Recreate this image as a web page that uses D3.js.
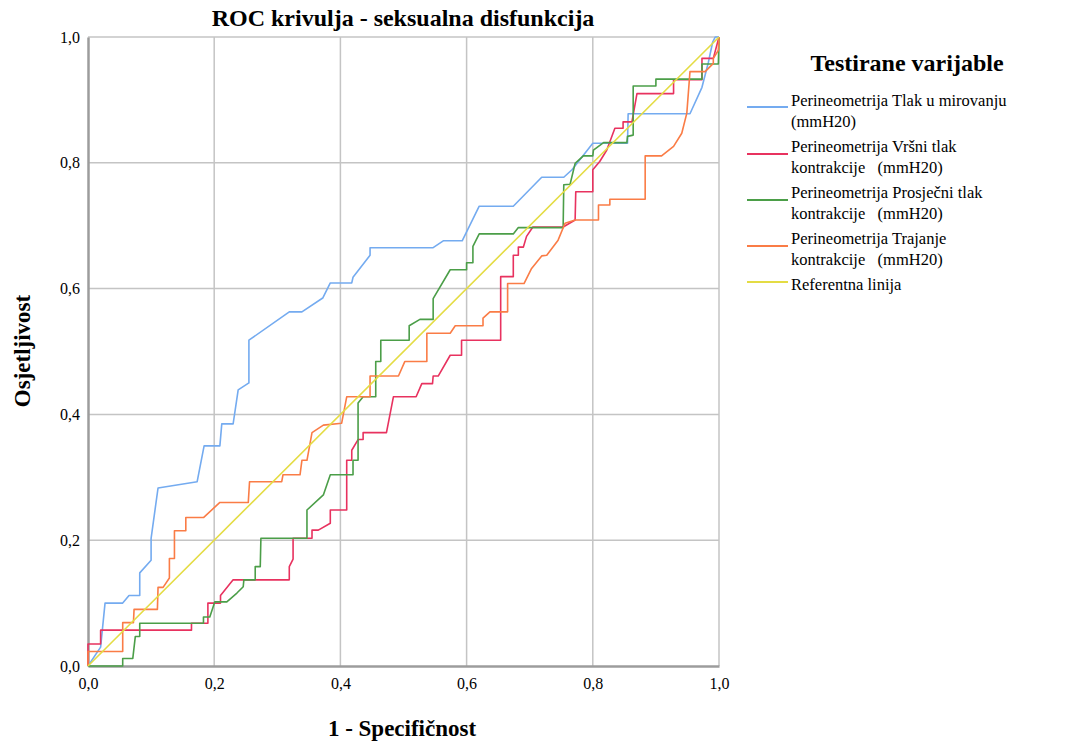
<!DOCTYPE html>
<html><head><meta charset="utf-8">
<script src="https://cdn.jsdelivr.net/npm/d3@7"></script>
<style>
body{margin:0;background:#fff;}
svg text{font-family:"Liberation Serif","Times New Roman",Times,"DejaVu Serif",serif !important;fill:#000;}
</style></head>
<body><svg id="c" width="1070" height="744"></svg>
<script>
const title = "ROC krivulja - seksualna disfunkcija";
const xTitle = "1 - Specifičnost";
const yTitle = "Osjetljivost";
const legendTitle = "Testirane varijable";
const tickValues = [0, 0.2, 0.4, 0.6, 0.8, 1.0];

const seriesNames = [
  ["Perineometrija Tlak u mirovanju", "(mmH20)"],
  ["Perineometrija Vršni tlak", "kontrakcije   (mmH20)"],
  ["Perineometrija Prosječni tlak", "kontrakcije   (mmH20)"],
  ["Perineometrija Trajanje", "kontrakcije   (mmH20)"],
  ["Referentna linija"]
];
const seriesColors = ["#74abf0", "#e8325f", "#4b9e48", "#fa7c46", "#e4dc44"];

// [1 - specificity, sensitivity]
const tlakMirovanje = [[0,0],[0.02,0.03],[0.027,0.10],[0.055,0.10],[0.065,0.112],[0.082,0.112],[0.082,0.148],[0.1,0.168],[0.1,0.203],[0.111,0.283],[0.173,0.293],[0.184,0.35],[0.209,0.35],[0.212,0.385],[0.23,0.385],[0.238,0.439],[0.255,0.45],[0.255,0.518],[0.319,0.563],[0.339,0.563],[0.372,0.585],[0.384,0.609],[0.418,0.609],[0.42,0.618],[0.447,0.653],[0.447,0.665],[0.547,0.665],[0.563,0.676],[0.593,0.676],[0.62,0.731],[0.674,0.731],[0.719,0.777],[0.754,0.777],[0.767,0.789],[0.8,0.831],[0.855,0.831],[0.856,0.878],[0.954,0.878],[0.973,0.92],[0.983,0.959],[0.99,0.992],[0.994,1.0],[1,1]];
const vrsniTlak = [[0,0],[0,0.035],[0.02,0.035],[0.02,0.057],[0.164,0.057],[0.164,0.068],[0.19,0.068],[0.19,0.10],[0.21,0.10],[0.21,0.112],[0.23,0.137],[0.319,0.137],[0.319,0.158],[0.325,0.17],[0.325,0.203],[0.355,0.203],[0.355,0.216],[0.365,0.216],[0.384,0.227],[0.384,0.248],[0.41,0.248],[0.41,0.327],[0.418,0.327],[0.418,0.343],[0.428,0.36],[0.436,0.36],[0.436,0.371],[0.473,0.371],[0.484,0.428],[0.52,0.428],[0.529,0.449],[0.546,0.449],[0.547,0.461],[0.555,0.461],[0.574,0.494],[0.592,0.494],[0.592,0.518],[0.654,0.518],[0.654,0.619],[0.674,0.619],[0.674,0.653],[0.682,0.653],[0.682,0.666],[0.69,0.666],[0.695,0.683],[0.705,0.698],[0.753,0.698],[0.772,0.709],[0.773,0.754],[0.8,0.754],[0.8,0.789],[0.811,0.802],[0.822,0.82],[0.835,0.855],[0.848,0.855],[0.848,0.865],[0.862,0.865],[0.87,0.91],[0.928,0.91],[0.928,0.932],[0.973,0.932],[0.973,0.966],[0.991,0.966],[1,1]];
const prosjecniTlak = [[0,0],[0.055,0],[0.055,0.012],[0.071,0.012],[0.075,0.047],[0.082,0.047],[0.082,0.068],[0.183,0.068],[0.183,0.078],[0.193,0.078],[0.201,0.102],[0.22,0.102],[0.236,0.116],[0.246,0.126],[0.247,0.137],[0.265,0.137],[0.265,0.158],[0.273,0.158],[0.274,0.203],[0.347,0.203],[0.347,0.248],[0.373,0.272],[0.384,0.304],[0.42,0.304],[0.42,0.327],[0.428,0.327],[0.428,0.418],[0.436,0.428],[0.456,0.428],[0.456,0.484],[0.464,0.484],[0.464,0.518],[0.509,0.518],[0.509,0.541],[0.526,0.551],[0.547,0.551],[0.547,0.584],[0.574,0.63],[0.6,0.63],[0.6,0.641],[0.61,0.641],[0.61,0.667],[0.62,0.687],[0.674,0.687],[0.682,0.697],[0.753,0.697],[0.754,0.765],[0.764,0.766],[0.772,0.799],[0.785,0.811],[0.8,0.811],[0.801,0.82],[0.817,0.832],[0.854,0.832],[0.855,0.842],[0.864,0.844],[0.864,0.922],[0.9,0.922],[0.9,0.933],[0.973,0.933],[0.973,0.957],[0.999,0.957],[1,1]];
const trajanje = [[0,0],[0,0.023],[0.055,0.023],[0.055,0.069],[0.072,0.069],[0.073,0.09],[0.11,0.09],[0.111,0.125],[0.119,0.125],[0.129,0.14],[0.129,0.171],[0.137,0.171],[0.137,0.215],[0.155,0.215],[0.155,0.236],[0.183,0.236],[0.209,0.26],[0.254,0.26],[0.256,0.293],[0.307,0.293],[0.309,0.304],[0.336,0.304],[0.339,0.327],[0.347,0.327],[0.355,0.371],[0.373,0.383],[0.402,0.386],[0.41,0.428],[0.447,0.428],[0.447,0.461],[0.492,0.461],[0.502,0.484],[0.537,0.484],[0.537,0.529],[0.574,0.529],[0.582,0.541],[0.626,0.541],[0.626,0.553],[0.637,0.563],[0.665,0.563],[0.665,0.608],[0.691,0.608],[0.703,0.632],[0.719,0.652],[0.727,0.653],[0.745,0.677],[0.756,0.704],[0.772,0.709],[0.809,0.709],[0.809,0.733],[0.827,0.733],[0.827,0.742],[0.883,0.742],[0.883,0.811],[0.909,0.811],[0.928,0.826],[0.941,0.847],[0.949,0.879],[0.954,0.945],[0.978,0.945],[0.991,0.958],[0.991,0.966],[0.999,0.979],[1,1]];
const referentna = [[0,0],[1,1]];

const seriesData = [tlakMirovanje, vrsniTlak, prosjecniTlak, trajanje, referentna];

const svg = d3.select("#c");
const L = 88, R = 719, T = 37, B = 666;
const x = d3.scaleLinear().domain([0,1]).range([L,R]);
const y = d3.scaleLinear().domain([0,1]).range([B,T]);
const fmt = d => d3.format(".1f")(d).replace(".", ",");

// grid
const grid = svg.append("g");
grid.selectAll("line.v").data(tickValues.slice(1)).enter().append("line")
  .attr("x1", d => x(d)).attr("x2", d => x(d)).attr("y1", T).attr("y2", B)
  .attr("stroke", "#c4c4c4").attr("stroke-width", 1.5);
grid.selectAll("line.h").data(tickValues.slice(1)).enter().append("line")
  .attr("y1", d => y(d)).attr("y2", d => y(d)).attr("x1", L).attr("x2", R)
  .attr("stroke", "#c4c4c4").attr("stroke-width", 1.5);

// axes
const ax = svg.append("g").attr("transform", `translate(0,${B})`)
  .call(d3.axisBottom(x).tickValues(tickValues).tickFormat(fmt).tickSize(0).tickPadding(12));
const ay = svg.append("g").attr("transform", `translate(${L},0)`)
  .call(d3.axisLeft(y).tickValues(tickValues).tickFormat(fmt).tickSize(0).tickPadding(8));
[ax, ay].forEach(g => {
  g.attr("font-family", null);
  g.select(".domain").attr("stroke", "#9c9c9c").attr("stroke-width", 2.5);
  g.selectAll("text").style("font-size", "16px").attr("fill", "#000");
});

// curves
const line = d3.line().x(d => x(d[0])).y(d => y(d[1]));
seriesData.forEach((data, i) => {
  svg.append("path").datum(data).attr("d", line)
    .attr("fill", "none").attr("stroke", seriesColors[i]).attr("stroke-width", 1.6)
    .attr("stroke-linejoin", "round");
});

// titles
svg.append("text").attr("x", 403).attr("y", 26).attr("text-anchor", "middle")
  .style("font-size", "24px").style("font-weight", "bold").text(title);
svg.append("text").attr("x", 402).attr("y", 736).attr("text-anchor", "middle")
  .style("font-size", "23px").style("font-weight", "bold").text(xTitle);
svg.append("text").attr("transform", "translate(30,351) rotate(-90)").attr("text-anchor", "middle")
  .style("font-size", "23px").style("font-weight", "bold").text(yTitle);

// legend
const lg = svg.append("g");
lg.append("text").attr("x", 907).attr("y", 71).attr("text-anchor", "middle")
  .style("font-size", "24px").style("font-weight", "bold").text(legendTitle);
const rowTop = [100, 146, 192, 238, 284];
const lineY = [107, 154, 200, 246, 282];
seriesNames.forEach((lines, i) => {
  lg.append("line").attr("x1", 747).attr("x2", 788).attr("y1", lineY[i]).attr("y2", lineY[i])
    .attr("stroke", seriesColors[i]).attr("stroke-width", 2);
  lines.forEach((t, j) => {
    lg.append("text").attr("x", 791).attr("y", rowTop[i] + 6 + j * 21)
      .style("font-size", "16.5px").style("white-space", "pre").text(t);
  });
});
</script></body></html>
